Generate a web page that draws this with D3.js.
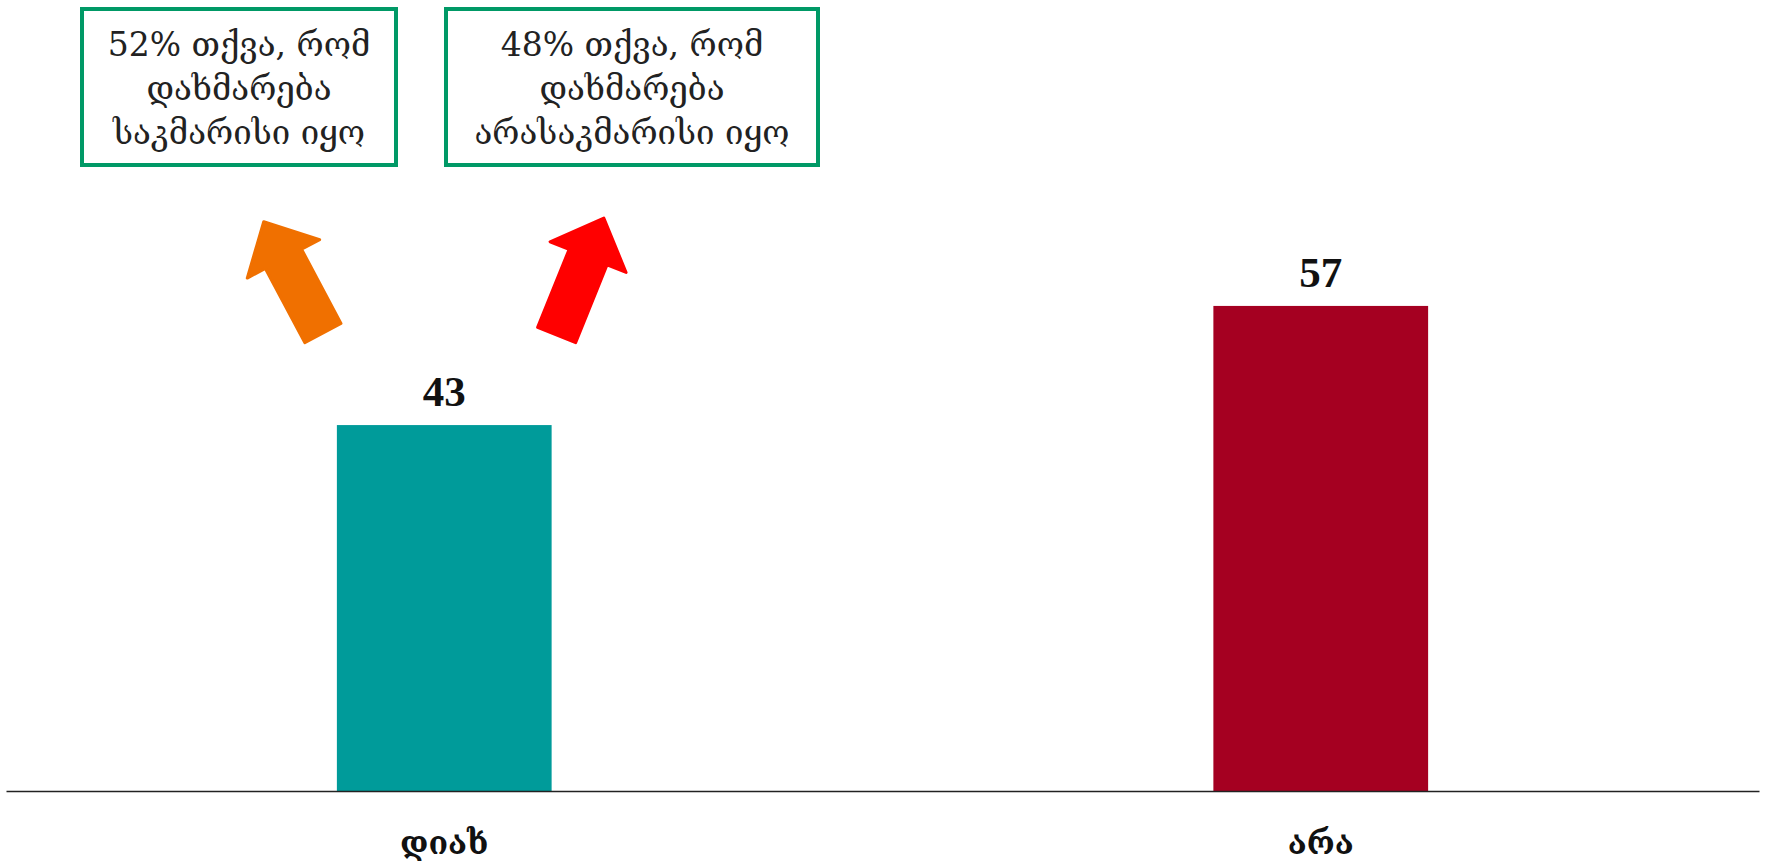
<!DOCTYPE html>
<html>
<head>
<meta charset="utf-8">
<script src="https://cdn.jsdelivr.net/npm/d3@7"></script>
<style>
  html, body { margin: 0; padding: 0; background: #fff; }
  svg { display: block; }
</style>
</head>
<body>
<svg id="chart" width="1765" height="863"></svg>
<script>
// ---- data ----
const categories = ["დიახ", "არა"];
const values = [43, 57];
const barColors = ["#009B9A", "#A50021"];
const noteLines1 = ["52% თქვა, რომ", "დახმარება", "საკმარისი იყო"];
const noteLines2 = ["48% თქვა, რომ", "დახმარება", "არასაკმარისი იყო"];

const W = 1765, H = 863;
const svg = d3.select("#chart");
const geo = "'DejaVu Serif', 'DejaVu Sans', serif";

const x = d3.scaleBand().domain(categories).range([6, 1759]).paddingInner(0.755).paddingOuter(0.3775);
const y = d3.scaleLinear().domain([0, 60]).range([791, 791 - 60 * 8.51]);

// bars
svg.selectAll("rect.bar").data(categories).join("rect")
  .attr("class", "bar")
  .attr("x", d => x(d))
  .attr("y", (d, i) => y(values[i]))
  .attr("width", x.bandwidth())
  .attr("height", (d, i) => y(0) - y(values[i]))
  .attr("fill", (d, i) => barColors[i]);

// value labels
svg.selectAll("text.val").data(categories).join("text")
  .attr("class", "val")
  .attr("x", d => x(d) + x.bandwidth() / 2)
  .attr("y", (d, i) => y(values[i]) - 19)
  .attr("text-anchor", "middle")
  .attr("font-family", "'Liberation Serif', serif")
  .attr("font-weight", "bold")
  .attr("font-size", 43)
  .attr("fill", "#111")
  .text((d, i) => values[i]);

// axis baseline
const axis = d3.axisBottom(x).tickSize(0).tickPadding(40);
const gx = svg.append("g").attr("transform", `translate(0,${y(0)})`).call(axis);
gx.select(".domain").attr("stroke", "#222").attr("stroke-width", 1.6);
gx.selectAll(".tick text")
  .attr("font-family", geo)
  .attr("font-weight", "bold")
  .attr("font-size", 32)
  .attr("fill", "#111");

// annotation boxes
function noteBox(cx, top, w, h, lines) {
  const g = svg.append("g");
  g.append("rect")
    .attr("x", cx - w / 2).attr("y", top).attr("width", w).attr("height", h)
    .attr("fill", "#fff").attr("stroke", "#009966").attr("stroke-width", 4);
  g.selectAll("text").data(lines).join("text")
    .attr("x", cx)
    .attr("y", (d, i) => top + 47 + i * 44)
    .attr("text-anchor", "middle")
    .attr("font-family", geo)
    .attr("font-size", 33)
    .attr("fill", "#222")
    .text(d => d);
}
noteBox(239, 9, 314, 156, noteLines1);
noteBox(632, 9, 372, 156, noteLines2);

// arrows
function arrow(tx, ty, angleDeg, len, shaftW, headW, headL, color) {
  const sw = shaftW / 2, hw = headW / 2;
  const pts = [
    [-sw, 0], [sw, 0], [sw, -(len - headL)], [hw, -(len - headL)],
    [0, -len], [-hw, -(len - headL)], [-sw, -(len - headL)]
  ];
  svg.append("path")
    .attr("d", d3.line()(pts) + "Z")
    .attr("transform", `translate(${tx},${ty}) rotate(${angleDeg})`)
    .attr("fill", color)
    .attr("stroke", color)
    .attr("stroke-width", 3)
    .attr("stroke-linejoin", "round");
}
const b0 = x(categories[0]);
arrow(b0 - 14, 333, -28, 126, 41, 82, 42, "#F07000");
arrow(b0 + x.bandwidth() + 5, 335, 22, 126, 41, 82, 42, "#FF0000");
</script>
</body>
</html>
